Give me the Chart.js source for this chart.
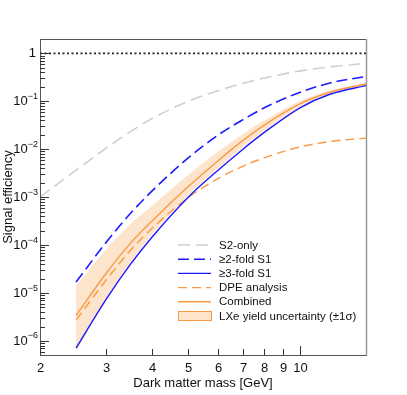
<!DOCTYPE html>
<html>
<head>
<meta charset="utf-8">
<script src="https://cdn.jsdelivr.net/npm/chart.js@4/dist/chart.umd.min.js"></script>
<style>
  html, body { margin: 0; padding: 0; background: #fff; }
  #wrap { width: 407px; height: 395px; position: relative; }
</style>
</head>
<body>
<div id="wrap"><canvas id="chart"></canvas></div>
<script>
// Data (mass in GeV, efficiency)
const masses    = [2, 2.5, 3, 3.5, 4, 5, 6, 7, 8, 10, 12, 15];
const s2Only    = [1e-3, 3.66e-3, 0.0103, 0.0233, 0.0438, 0.1, 0.166, 0.237, 0.305, 0.43, 0.52, 0.62];
const twoFold   = [null, 1.7e-5, 1.1e-4, 4.6e-4, 1.35e-3, 6.6e-3, 0.0195, 0.041, 0.073, 0.155, 0.24, 0.33];
const threeFold = [null, 7.1e-7, 7.1e-6, 4.0e-5, 1.48e-4, 1.0e-3, 3.6e-3, 9.9e-3, 0.0224, 0.074, 0.14, 0.212];
const dpe       = [null, 2.75e-6, 1.8e-5, 7.8e-5, 2.24e-4, 9.8e-4, 2.43e-3, 4.4e-3, 6.6e-3, 0.0112, 0.0145, 0.017];
const combined  = [null, 3.4e-6, 2.5e-5, 1.1e-4, 3.2e-4, 1.66e-3, 5.7e-3, 0.0151, 0.0319, 0.089, 0.154, 0.230];
const bandHi    = [null, 1.41e-5, 7.9e-5, 2.75e-4, 6.6e-4, 2.9e-3, 8.85e-3, 0.0208, 0.0402, 0.102, 0.167, 0.241];
const bandLo    = [null, 6.0e-7, 7.1e-6, 4.3e-5, 1.66e-4, 1.1e-3, 3.95e-3, 0.0108, 0.0245, 0.078, 0.143, 0.214];
const unityLine = [1, 1, 1, 1, 1, 1, 1, 1, 1, 1, 1, 1];

const xTickLabels = [2, 3, 4, 5, 6, 7, 8, 9, 10];
const yDecades = [-6, -5, -4, -3, -2, -1, 0];

const FONT = '"Liberation Sans", Arial, Helvetica, sans-serif';
const ORANGE = '#f99b45';
const BLUE = '#1a1aff';

function toPoints(values) {
    return masses.map((m, i) => ({ x: m, y: values[i] })).filter(p => p.y !== null);
}

function lineSet(label, values, color, dash, width) {
    return {
        label: label,
        data: toPoints(values),
        borderColor: color,
        borderDash: dash,
        borderWidth: width,
        pointRadius: 0,
        fill: false,
        cubicInterpolationMode: 'monotone',
        order: 1
    };
}

// Axis frame, inward ticks, labels and titles (ROOT-like look)
const axesPlugin = {
    id: 'axesPlugin',
    afterDraw(chart) {
        const ctx = chart.ctx;
        const a = chart.chartArea;
        const xs = chart.scales.x;
        const ys = chart.scales.y;
        ctx.save();

        // frame
        ctx.strokeStyle = '#555';
        ctx.lineWidth = 1;
        ctx.strokeRect(a.left + 0.5, a.top + 0.5, a.right - a.left, a.bottom - a.top);
        ctx.strokeStyle = '#999';
        ctx.lineWidth = 1.5;
        ctx.beginPath();
        ctx.moveTo(a.right + 0.5, a.top);
        ctx.lineTo(a.right + 0.5, a.bottom);
        ctx.stroke();

        // x ticks
        ctx.strokeStyle = '#333';
        ctx.lineWidth = 1;
        ctx.fillStyle = '#111';
        ctx.font = '13px ' + FONT;
        ctx.textAlign = 'center';
        ctx.textBaseline = 'middle';
        xTickLabels.forEach(v => {
            const px = Math.round(xs.getPixelForValue(v)) + 0.5;
            const len = (v === 10) ? 9 : 6;
            ctx.beginPath();
            ctx.moveTo(px, a.bottom);
            ctx.lineTo(px, a.bottom - len);
            ctx.stroke();
            ctx.fillText(String(v), px, a.bottom + 13);
        });

        // y ticks
        for (let d = -7; d <= 0; d++) {
            for (let m = 1; m <= 9; m++) {
                const v = m * Math.pow(10, d);
                if (v < ys.min || v > ys.max) continue;
                const py = Math.round(ys.getPixelForValue(v)) + 0.5;
                const len = (m === 1) ? 9 : 5;
                ctx.beginPath();
                ctx.moveTo(a.left, py);
                ctx.lineTo(a.left + len, py);
                ctx.stroke();
            }
        }

        // y labels with superscript exponent
        yDecades.forEach(d => {
            const py = ys.getPixelForValue(Math.pow(10, d));
            const right = a.left - 2;
            ctx.textAlign = 'right';
            ctx.textBaseline = 'middle';
            if (d === 0) {
                ctx.font = '13px ' + FONT;
                ctx.fillText('1', right - 2, py);
                return;
            }
            const exp = '\u2212' + Math.abs(d);
            ctx.font = '9px ' + FONT;
            const ew = ctx.measureText(exp).width;
            ctx.fillText(exp, right, py - 5);
            ctx.font = '13px ' + FONT;
            ctx.fillText('10', right - ew, py);
        });

        // axis titles
        ctx.font = '13px ' + FONT;
        ctx.textAlign = 'center';
        ctx.textBaseline = 'middle';
        ctx.fillText('Dark matter mass [GeV]', (a.left + a.right) / 2, a.bottom + 28);
        ctx.save();
        ctx.translate(8, (a.top + a.bottom) / 2);
        ctx.rotate(-Math.PI / 2);
        ctx.fillText('Signal efficiency', 0, 0);
        ctx.restore();

        ctx.restore();
    }
};

// Legend drawn inside the plot, lower right
const legendRows = [0, 1, 2, 3, 4, 5];
const legendPlugin = {
    id: 'legendPlugin',
    afterDraw(chart) {
        const ctx = chart.ctx;
        const x0 = 178, x1 = 211, tx = 219, y0 = 245, dy = 14.2;
        ctx.save();
        ctx.font = '11.5px ' + FONT;
        ctx.textAlign = 'left';
        ctx.textBaseline = 'middle';
        legendRows.forEach(i => {
            const ds = chart.data.datasets[i];
            const y = y0 + i * dy;
            if (ds.legendBox) {
                ctx.fillStyle = ds.backgroundColor;
                ctx.fillRect(x0, y - 4.5, x1 - x0, 9);
                ctx.strokeStyle = ORANGE;
                ctx.lineWidth = 1;
                ctx.strokeRect(x0 + 0.5, y - 4.5, x1 - x0, 9);
            } else {
                ctx.strokeStyle = ds.borderColor;
                ctx.lineWidth = ds.borderWidth;
                ctx.setLineDash(ds.borderDash || []);
                ctx.beginPath();
                ctx.moveTo(x0, y);
                ctx.lineTo(x1, y);
                ctx.stroke();
                ctx.setLineDash([]);
            }
            ctx.fillStyle = '#111';
            ctx.fillText(ds.label, tx, y + 0.5);
        });
        ctx.restore();
    }
};

const datasets = [
    lineSet('S2-only', s2Only, '#cfcfcf', [12, 6], 1.6),
    lineSet('\u22652-fold S1', twoFold, BLUE, [11, 5], 1.6),
    lineSet('\u22653-fold S1', threeFold, BLUE, [], 1.4),
    lineSet('DPE analysis', dpe, ORANGE, [9, 5], 1.4),
    lineSet('Combined', combined, ORANGE, [], 1.4),
    {
        label: 'LXe yield uncertainty (\u00b11\u03c3)',
        data: toPoints(bandHi),
        borderWidth: 0,
        borderColor: 'rgba(0,0,0,0)',
        backgroundColor: '#fde4cc',
        pointRadius: 0,
        fill: '+1',
        cubicInterpolationMode: 'monotone',
        legendBox: true,
        order: 5
    },
    {
        label: 'band low',
        data: toPoints(bandLo),
        borderWidth: 0,
        borderColor: 'rgba(0,0,0,0)',
        pointRadius: 0,
        fill: false,
        cubicInterpolationMode: 'monotone',
        order: 5
    },
    {
        label: 'unity',
        data: toPoints(unityLine),
        borderColor: '#222',
        borderDash: [2, 2.5],
        borderWidth: 1.6,
        pointRadius: 0,
        fill: false,
        order: 0
    }
];

const ctx = document.getElementById('chart').getContext('2d');
new Chart(ctx, {
    type: 'line',
    data: { datasets: datasets },
    options: {
        responsive: true,
        maintainAspectRatio: false,
        animation: false,
        layout: { padding: { left: 40, top: 39, right: 41, bottom: 40 } },
        plugins: {
            legend: { display: false },
            tooltip: { enabled: false }
        },
        scales: {
            x: { type: 'logarithmic', min: 2, max: 15, display: false },
            y: { type: 'logarithmic', min: 5.1e-7, max: 1.99, display: false }
        }
    },
    plugins: [axesPlugin, legendPlugin]
});
</script>
</body>
</html>
